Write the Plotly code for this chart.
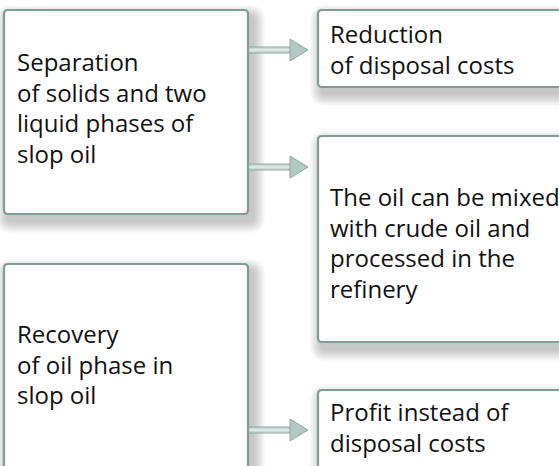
import plotly.graph_objects as go

# ---- content ----
source_texts = [
    ["Separation", "of solids and two", "liquid phases of", "slop oil"],
    ["Recovery", "of oil phase in", "slop oil"],
]
result_texts = [
    ["Reduction", "of disposal costs"],
    ["The oil can be mixed", "with crude oil and", "processed in the", "refinery"],
    ["Profit instead of", "disposal costs"],
]
# which source box feeds which result box
links = [(0, 0), (0, 1), (1, 2)]

# ---- layout geometry (pixels, y downward) ----
W, H = 559, 466
source_boxes = [(4, 10, 248, 214), (4, 264, 248, 500)]
result_boxes = [(318, 10, 600, 87), (318, 136, 600, 342), (318, 390, 600, 500)]
source_baselines = [70, 342]
result_baselines = [42, 205, 420]
arrow_y = [50, 167, 430]
LINE = 30.8
FS = 24
FONT = "Open Sans"
BORDER = "#7f9d97"

fig = go.Figure()
shapes = []


def rrect(x0, y0, x1, y1, r):
    return (f"M {x0+r},{y0} L {x1-r},{y0} Q {x1},{y0} {x1},{y0+r} "
            f"L {x1},{y1-r} Q {x1},{y1} {x1-r},{y1} L {x0+r},{y1} "
            f"Q {x0},{y1} {x0},{y1-r} L {x0},{y0+r} Q {x0},{y0} {x0+r},{y0} Z")


all_boxes = source_boxes + result_boxes
# soft drop shadows
for (x0, y0, x1, y1) in all_boxes:
    for k in range(12, 0, -1):
        shapes.append(dict(type="path", path=rrect(x0 + 4 - k, y0 + 7 - k, x1 + 5 + k, y1 + 7 + k, 4 + k),
                           fillcolor="rgba(90,90,90,0.03)", line=dict(width=0), layer="below"))
# boxes
for (x0, y0, x1, y1) in all_boxes:
    shapes.append(dict(type="path", path=rrect(x0, y0, x1, y1, 4), fillcolor="white",
                       line=dict(color=BORDER, width=2.2), layer="above"))

# arrows
for (si, ri), ay in zip(links, arrow_y):
    sx = source_boxes[si][2]
    tx = result_boxes[ri][0]
    tip = tx - 10
    base = tip - 18
    shapes.append(dict(type="rect", x0=sx + 1, x1=base, y0=ay - 3, y1=ay + 3,
                       fillcolor="#cdd9d6", line=dict(color="#8ea8a3", width=1)))
    shapes.append(dict(type="line", x0=sx + 1, x1=base, y0=ay, y1=ay,
                       line=dict(color="#e3eae8", width=1.5)))
    shapes.append(dict(type="path", path=f"M {base},{ay-11} L {tip},{ay} L {base},{ay+11} Z",
                       fillcolor="#b4c8c3", line=dict(color="#8ea8a3", width=1)))

annotations = []


def add_lines(lines, x, baseline):
    for i, t in enumerate(lines):
        annotations.append(dict(x=x, y=baseline + i * LINE - 0.36 * FS, text=t, showarrow=False,
                                xanchor="left", yanchor="middle", align="left",
                                font=dict(family=FONT, size=FS, color="#111111"),
                                xref="x", yref="y"))


for box, lines, bl in zip(source_boxes, source_texts, source_baselines):
    add_lines(lines, box[0] + 11, bl)
for box, lines, bl in zip(result_boxes, result_texts, result_baselines):
    add_lines(lines, box[0] + 10, bl)

fig.update_layout(
    width=W, height=H, margin=dict(l=0, r=0, t=0, b=0),
    paper_bgcolor="white", plot_bgcolor="white",
    xaxis=dict(range=[0, W], visible=False, fixedrange=True),
    yaxis=dict(range=[H, 0], visible=False, fixedrange=True),
    shapes=shapes, annotations=annotations, showlegend=False,
)
fig.write_html("out.html", config={"displayModeBar": False},
               post_script="document.body.style.margin='0';document.body.style.overflow='hidden';")
